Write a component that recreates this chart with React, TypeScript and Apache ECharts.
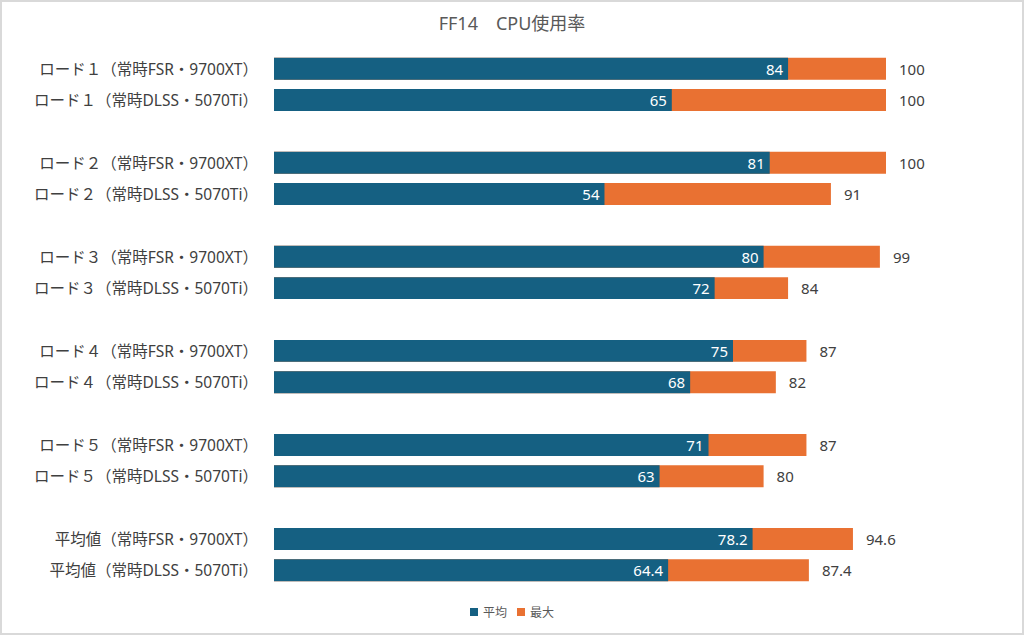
import React, { useEffect, useRef } from 'react';
import * as echarts from 'echarts';

// Row labels (blank rows separate the groups)
const categories = [
  'ロード１（常時FSR・9700XT）',
  'ロード１（常時DLSS・5070Ti）',
  ' ',
  'ロード２（常時FSR・9700XT）',
  'ロード２（常時DLSS・5070Ti）',
  '  ',
  'ロード３（常時FSR・9700XT）',
  'ロード３（常時DLSS・5070Ti）',
  '   ',
  'ロード４（常時FSR・9700XT）',
  'ロード４（常時DLSS・5070Ti）',
  '    ',
  'ロード５（常時FSR・9700XT）',
  'ロード５（常時DLSS・5070Ti）',
  '     ',
  '平均値（常時FSR・9700XT）',
  '平均値（常時DLSS・5070Ti）',
];

const averageValues = [84, 65, null, 81, 54, null, 80, 72, null, 75, 68, null, 71, 63, null, 78.2, 64.4];
const maxValues = [100, 100, null, 100, 91, null, 99, 84, null, 87, 82, null, 87, 80, null, 94.6, 87.4];

const FONT = "'Noto Sans', 'Noto Sans CJK JP', sans-serif";

const App: React.FC = () => {
  const chartRef = useRef<HTMLDivElement>(null);

  useEffect(() => {
    if (!chartRef.current) return;
    const chart = echarts.init(chartRef.current, null, { renderer: 'svg' });

    const option: echarts.EChartsOption = {
      animation: false,
      backgroundColor: 'transparent',
      textStyle: { fontFamily: FONT },
      title: {
        text: 'FF14　CPU使用率',
        left: 'center',
        top: 9,
        textStyle: { fontSize: 18, fontWeight: 'normal', color: '#595959', fontFamily: FONT },
      },
      legend: {
        data: ['平均', '最大'],
        bottom: 12,
        left: 'center',
        icon: 'rect',
        itemWidth: 8,
        itemHeight: 8,
        itemGap: 10,
        textStyle: { fontSize: 12, color: '#595959', fontFamily: FONT },
      },
      grid: {
        left: 274,
        right: 138,
        top: 53,
        bottom: 49,
      },
      xAxis: {
        type: 'value',
        min: 0,
        max: 100,
        show: false,
      },
      yAxis: {
        type: 'category',
        data: categories,
        inverse: true,
        axisLine: { show: false },
        axisTick: { show: false },
        axisLabel: {
          fontSize: 15.5,
          color: '#404040',
          margin: 16,
          fontFamily: FONT,
        },
      },
      series: [
        {
          name: '最大',
          type: 'bar',
          data: maxValues,
          barWidth: '70%',
          barGap: '-100%',
          itemStyle: { color: '#E97132' },
          label: {
            show: true,
            position: 'right',
            distance: 13,
            fontSize: 15,
            color: '#404040',
            fontFamily: FONT,
          },
        },
        {
          name: '平均',
          type: 'bar',
          data: averageValues,
          barWidth: '70%',
          itemStyle: { color: '#156082' },
          z: 3,
          label: {
            show: true,
            position: 'insideRight',
            distance: 5,
            fontSize: 15,
            color: '#ffffff',
            fontFamily: FONT,
          },
        },
      ],
    };

    chart.setOption(option as any);

    return () => {
      chart.dispose();
    };
  }, []);

  return (
    <div
      style={{
        position: 'fixed',
        left: 0,
        top: 0,
        width: 1024,
        height: 635,
        boxSizing: 'border-box',
        border: '2px solid #d9d9d9',
        background: '#fff',
      }}
    >
      <div ref={chartRef} style={{ position: 'absolute', left: -2, top: -2, width: 1024, height: 635 }} />
    </div>
  );
};

export default App;
